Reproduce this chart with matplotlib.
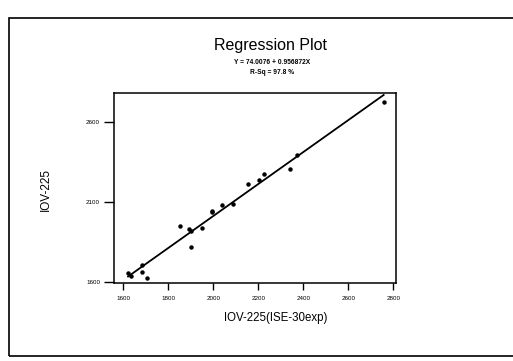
import numpy as np
import matplotlib.pyplot as plt
from matplotlib.patches import Rectangle

plt.rcParams['font.family'] = ['Liberation Sans', 'DejaVu Sans']

# Data
x_exp = [1622, 1633, 1684, 1684, 1704, 1852, 1893, 1901, 1900, 1951,
         1993, 1996, 2040, 2089, 2153, 2203, 2227, 2342, 2371, 2757]
y_iov = [1656, 1641, 1708, 1662, 1625, 1952, 1930, 1921, 1822, 1936,
         2046, 2038, 2081, 2089, 2214, 2239, 2273, 2304, 2395, 2725]
x_ticks = [1600, 1800, 2000, 2200, 2400, 2600, 2800]
y_ticks = [1600, 2100, 2600]
eq_text = 'Y = 74.0076 + 0.956872X'
rsq_text = 'R-Sq = 97.8 %'

x = np.array(x_exp)
y = np.array(y_iov)
b1, b0 = np.polyfit(x, y, 1)
xf = np.array([x.min(), x.max()])

fig = plt.figure(figsize=(5.13, 3.61), dpi=100)
ax = fig.add_axes([0.222, 0.216, 0.550, 0.526])

ax.plot(xf, b0 + b1*xf, color='black', lw=1.3)
ax.plot(x, y, 'o', color='black', ms=2.2)

ax.set_xlim(1559, 2812)
ax.set_ylim(1596, 2779)
ax.set_xticks(x_ticks)
ax.set_yticks(y_ticks)
ax.tick_params(axis='x', length=5, width=1, labelsize=4.5, pad=4)
ax.tick_params(axis='y', length=7, width=1, labelsize=4.5, pad=3)
for s in ax.spines.values():
    s.set_linewidth(1.1)

ax.set_xlabel('IOV-225(ISE-30exp)', fontsize=8.3)
ax.xaxis.set_label_coords(0.575, -0.155)
ax.set_ylabel('IOV-225', fontsize=8.5)
ax.yaxis.set_label_coords(-0.22, 0.49)

fig.text(0.527, 0.875, 'Regression Plot', ha='center', va='center', fontsize=11.5)
fig.text(0.530, 0.828, eq_text, ha='center', va='center', fontsize=4.8, fontweight='bold')
fig.text(0.530, 0.800, rsq_text, ha='center', va='center', fontsize=4.8, fontweight='bold')

# outer frame of the scanned page
fig.patches.append(Rectangle((0.018, 0.015), 1.2, 0.935, transform=fig.transFigure,
                             fill=False, edgecolor='black', lw=1.2))

fig.savefig('out.png', dpi=100)
